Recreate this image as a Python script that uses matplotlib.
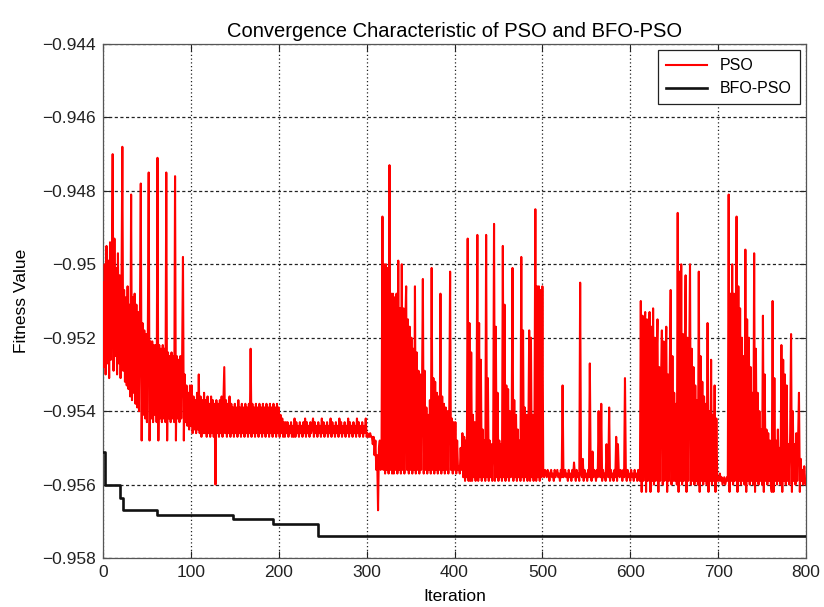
import numpy as np
import matplotlib
matplotlib.use("Agg")
import matplotlib.pyplot as plt

# ---------------- data ----------------
# PSO fitness per iteration, stored as n where value = -(0.9 + n/1e4)
PSO_E4 = [
    505, 528, 500, 530, 495, 527, 499, 531, 494, 526,
    502, 470, 529, 493, 525, 501, 530, 497, 527, 503,
    531, 508, 468, 529, 507, 532, 509, 533, 506, 534,
    511, 536, 481, 537, 509, 535, 508, 538, 511, 539,
    513, 540, 515, 478, 548, 516, 541, 518, 542, 519,
    543, 520, 475, 548, 521, 542, 521, 543, 522, 541,
    522, 543, 471, 548, 522, 542, 523, 543, 522, 542,
    523, 543, 475, 548, 524, 542, 525, 543, 524, 542,
    525, 543, 476, 548, 525, 542, 526, 543, 525, 542,
    527, 498, 548, 530, 543, 533, 544, 535, 545, 533,
    544, 533, 546, 536, 545, 537, 546, 535, 545, 530,
    546, 536, 547, 537, 546, 535, 546, 537, 547, 536,
    546, 538, 547, 536, 546, 537, 547, 538, 560, 537,
    546, 538, 547, 537, 546, 536, 547, 538, 528, 546,
    537, 547, 538, 546, 536, 547, 538, 546, 539, 547,
    538, 546, 539, 547, 537, 546, 539, 547, 538, 546,
    539, 547, 538, 546, 539, 547, 538, 546, 523, 547,
    538, 546, 539, 547, 538, 546, 539, 547, 538, 546,
    539, 547, 538, 546, 539, 547, 538, 546, 539, 547,
    538, 546, 539, 547, 538, 546, 539, 547, 538, 546,
    539, 547, 541, 546, 542, 547, 543, 547, 543, 546,
    543, 547, 544, 546, 543, 547, 544, 547, 542, 547,
    543, 546, 544, 547, 543, 546, 544, 547, 543, 546,
    542, 547, 543, 546, 544, 547, 543, 546, 544, 542,
    547, 543, 546, 544, 547, 543, 546, 544, 547, 542,
    546, 543, 547, 544, 546, 543, 547, 544, 546, 542,
    547, 543, 546, 544, 547, 543, 546, 544, 547, 542,
    546, 543, 547, 544, 546, 543, 547, 544, 546, 542,
    547, 543, 546, 544, 547, 543, 546, 544, 547, 542,
    546, 543, 547, 544, 546, 543, 547, 544, 546, 542,
    547, 546, 547, 547, 546, 547, 547, 549, 547, 552,
    548, 556, 552, 567, 550, 548, 556, 549, 487, 556,
    500, 557, 500, 556, 501, 557, 473, 556, 508, 557,
    508, 557, 509, 556, 508, 557, 499, 556, 512, 557,
    500, 556, 512, 557, 516, 506, 556, 515, 557, 517,
    556, 520, 557, 523, 556, 506, 557, 524, 556, 529,
    557, 530, 556, 535, 504, 557, 529, 556, 539, 557,
    541, 556, 537, 557, 501, 556, 531, 557, 532, 556,
    535, 557, 536, 556, 508, 557, 536, 556, 538, 557,
    539, 556, 540, 557, 541, 502, 556, 542, 557, 543,
    556, 543, 557, 548, 556, 555, 557, 550, 556, 546,
    558, 547, 559, 548, 558, 493, 559, 516, 559, 524,
    559, 541, 558, 543, 559, 545, 492, 559, 516, 558,
    526, 559, 545, 558, 548, 559, 492, 558, 531, 559,
    548, 558, 549, 559, 550, 489, 559, 517, 558, 535,
    559, 548, 558, 549, 559, 495, 558, 511, 559, 533,
    558, 534, 559, 540, 558, 547, 501, 559, 537, 558,
    541, 559, 545, 558, 548, 559, 498, 558, 518, 559,
    539, 558, 541, 559, 548, 518, 559, 520, 558, 541,
    559, 543, 485, 559, 506, 558, 506, 559, 507, 558,
    506, 557, 558, 556, 557, 558, 556, 557, 559, 557,
    556, 558, 557, 559, 556, 558, 557, 556, 558, 557,
    559, 556, 558, 533, 558, 557, 556, 558, 557, 559,
    556, 558, 557, 559, 556, 558, 554, 557, 559, 556,
    558, 557, 559, 505, 557, 558, 553, 559, 556, 558,
    557, 559, 556, 558, 527, 557, 559, 551, 558, 556,
    557, 559, 556, 558, 540, 557, 558, 538, 559, 556,
    558, 557, 559, 549, 557, 558, 539, 559, 556, 558,
    557, 559, 556, 558, 547, 559, 549, 557, 558, 556,
    557, 559, 556, 558, 531, 557, 559, 556, 558, 557,
    559, 556, 558, 557, 559, 556, 558, 557, 559, 556,
    558, 559, 510, 562, 514, 559, 520, 513, 562, 515,
    559, 522, 513, 562, 517, 559, 512, 560, 520, 559,
    526, 515, 562, 528, 559, 532, 518, 560, 521, 559,
    530, 517, 562, 530, 559, 528, 507, 560, 525, 559,
    535, 559, 538, 560, 486, 562, 502, 559, 500, 560,
    519, 559, 525, 503, 562, 520, 559, 528, 500, 560,
    523, 559, 528, 560, 533, 559, 537, 560, 502, 562,
    525, 559, 532, 560, 536, 559, 538, 560, 516, 562,
    540, 559, 526, 560, 541, 559, 533, 562, 542, 559,
    558, 559, 557, 559, 558, 560, 559, 558, 560, 559,
    558, 559, 481, 562, 508, 559, 500, 560, 508, 559,
    535, 487, 562, 506, 559, 512, 560, 520, 559, 525,
    560, 496, 562, 515, 559, 520, 560, 528, 559, 535,
    560, 497, 562, 523, 559, 535, 560, 540, 559, 545,
    560, 514, 562, 530, 559, 545, 560, 546, 559, 548,
    560, 562, 510, 562, 531, 559, 548, 560, 545, 559,
    550, 560, 522, 562, 526, 559, 530, 560, 533, 559,
    549, 560, 546, 519, 562, 540, 559, 549, 560, 546,
    559, 548, 535, 562, 553, 559, 556, 560, 555, 559,
    560,
]

# BFO-PSO best fitness: step changes (iteration, value)
BFO_ITER = [0, 2, 19, 23, 61, 148, 194, 245, 800]
BFO_VAL = [-0.9551, -0.9560, -0.95637, -0.95668, -0.95684, -0.95693,
           -0.95707, -0.95740, -0.95740]

X_TICKS = [0, 100, 200, 300, 400, 500, 600, 700, 800]
Y_TICKS = [-0.958, -0.956, -0.954, -0.952, -0.950, -0.948, -0.946, -0.944]
Y_TICK_LABELS = ["\u22120.958", "\u22120.956", "\u22120.954", "\u22120.952",
                 "\u22120.95", "\u22120.948", "\u22120.946", "\u22120.944"]

TITLE = "Convergence Characteristic of PSO and BFO-PSO"
XLABEL = "Iteration"
YLABEL = "Fitness Value"
SERIES = ["PSO", "BFO-PSO"]

# ---------------- plotting ----------------
plt.rcParams['font.family'] = ['Liberation Sans', 'DejaVu Sans']

fig = plt.figure(figsize=(8.24, 6.07), dpi=100)
ax = fig.add_axes([103/824, 1-558/607, 703/824, 514/607])

pso = -(0.9 + np.array(PSO_E4, dtype=float) / 1e4)
it = np.arange(len(pso))

ax.plot(it, pso, color='#ff0000', lw=1.5, label=SERIES[0], zorder=3)
ax.step(BFO_ITER, BFO_VAL, where='post', color='#111111', lw=1.9,
        label=SERIES[1], zorder=4)

ax.set_xlim(0, 800)
ax.set_ylim(-0.958, -0.944)
ax.set_xticks(X_TICKS)
ax.set_xticklabels([str(t) for t in X_TICKS])
ax.set_yticks(Y_TICKS)
ax.set_yticklabels(Y_TICK_LABELS)

ax.tick_params(direction='in', top=True, right=True, length=5,
               labelsize=12.5, colors='#222222', pad=5)
for s in ax.spines.values():
    s.set_color('#555555')
    s.set_linewidth(0.9)

ax.xaxis.grid(True, color='#222222', lw=0.9, linestyle=(0, (1, 2)))
ax.yaxis.grid(True, color='#222222', lw=0.9, linestyle=(0, (2.5, 2)))
ax.set_axisbelow(True)

ax.set_title(TITLE, fontsize=14.5, pad=5)
ax.set_xlabel(XLABEL, fontsize=12.5)
ax.xaxis.set_label_coords(0.5, -0.06)
ax.set_ylabel(YLABEL, fontsize=12.5)
ax.yaxis.set_label_coords(-0.105, 0.5)

leg = ax.legend(loc='upper right', bbox_to_anchor=(0.9915, 0.988),
                borderaxespad=0, fancybox=False, framealpha=1,
                edgecolor='#222222', fontsize=11.5, handlelength=2.6,
                borderpad=0.5, labelspacing=0.5)
leg.get_frame().set_linewidth(0.9)

fig.savefig("out.png", dpi=100)
